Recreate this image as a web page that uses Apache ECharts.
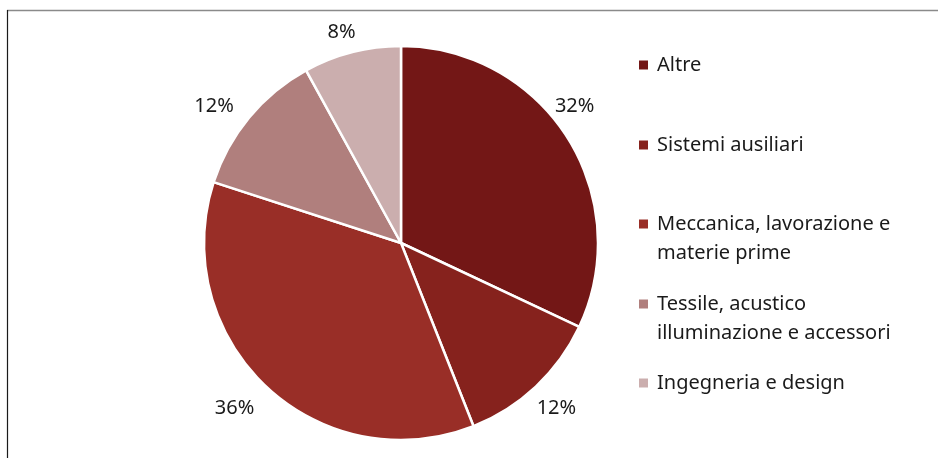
<!DOCTYPE html>
<html>
<head>
<meta charset="utf-8">
<script src="https://cdn.jsdelivr.net/npm/echarts@6/dist/echarts.min.js"></script>
<style>
  html, body { margin: 0; padding: 0; background: #fff; }
  #chart { width: 938px; height: 458px; }
</style>
</head>
<body>
<div id="chart"></div>
<script>
// Share of each sector (percent)
const categories = [
  'Altre',
  'Sistemi ausiliari',
  'Meccanica, lavorazione e materie prime',
  'Tessile, acustico illuminazione e accessori',
  'Ingegneria e design'
];
const shares = [32, 12, 36, 12, 8];
const legendLines = [
  ['Altre'],
  ['Sistemi ausiliari'],
  ['Meccanica, lavorazione e', 'materie prime'],
  ['Tessile, acustico', 'illuminazione e accessori'],
  ['Ingegneria e design']
];
const colors = ['#731716', '#86221d', '#992e27', '#b07f7d', '#cbaeae'];

const FONT = '"Noto Sans", sans-serif';
const LINE_H = 29;
const legendTops = [50.5, 130.5, 180.5, 260.5, 368.5];
// small nudges so the percentage labels sit in the free space beside each slice
const labelNudges = [[-18, -15], [0, 0], [-11, 0], [-12, 8], [-3, 9]];

const pieData = categories.map((name, i) => ({
  name: name,
  value: shares[i],
  itemStyle: { color: colors[i] }
}));

// One legend block per entry; wrapped entries get an empty first line so the
// marker sits level with the first line of text.
const legends = categories.map((name, i) => {
  const lines = legendLines[i];
  const blank = [];
  for (let k = 1; k < lines.length; k++) blank.push(' ');
  return {
    data: [name],
    orient: 'vertical',
    left: 639,
    top: legendTops[i],
    padding: 0,
    itemWidth: 9,
    itemHeight: 9,
    icon: 'rect',
    itemStyle: { borderWidth: 0 },
    selectedMode: false,
    formatter: () => blank.concat(lines).join('\n'),
    textStyle: {
      fontFamily: FONT,
      fontSize: 20,
      color: '#1a1a1a',
      lineHeight: LINE_H,
      padding: [0, 0, 0, 4]
    }
  };
});

const chart = echarts.init(document.getElementById('chart'), null, { renderer: 'canvas' });
chart.setOption({
  animation: false,
  backgroundColor: '#ffffff',
  legend: legends,
  graphic: [
    { type: 'line', shape: { x1: 7, y1: 10.5, x2: 938, y2: 10.5 }, style: { stroke: '#8a8a8a', lineWidth: 1.6 } },
    { type: 'line', shape: { x1: 7.5, y1: 10, x2: 7.5, y2: 458 }, style: { stroke: '#1a1a1a', lineWidth: 1.2 } }
  ],
  series: [
    {
      type: 'pie',
      center: [401, 243],
      radius: 197,
      startAngle: 90,
      clockwise: true,
      avoidLabelOverlap: false,
      label: { show: false },
      labelLine: { show: false },
      emphasis: { disabled: true },
      itemStyle: { borderColor: '#ffffff', borderWidth: 2.5 },
      data: pieData
    },
    {
      // transparent ring carrying the percentage labels just outside the pie
      type: 'pie',
      center: [401, 243],
      radius: [211, 237],
      startAngle: 90,
      clockwise: true,
      silent: true,
      avoidLabelOverlap: false,
      emphasis: { disabled: true },
      itemStyle: { color: 'rgba(0,0,0,0)' },
      labelLine: { show: false },
      label: {
        show: true,
        position: 'inside',
        formatter: p => p.value + '%',
        fontFamily: FONT,
        fontSize: 20,
        color: '#1a1a1a'
      },
      data: categories.map((name, i) => ({
        name: name,
        value: shares[i],
        label: { offset: labelNudges[i] }
      }))
    }
  ]
});
</script>
</body>
</html>
